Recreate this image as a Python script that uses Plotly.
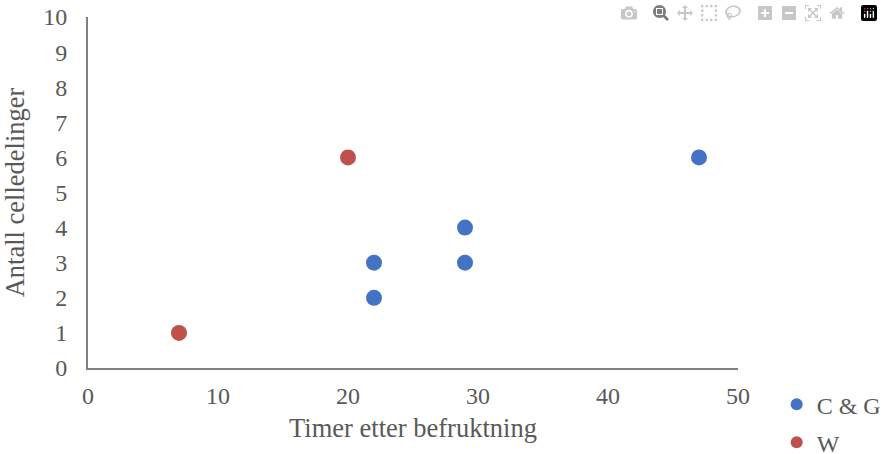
import plotly.graph_objects as go

cg_x = [22, 22, 29, 29, 47]
cg_y = [3, 2, 4, 3, 6]
w_x = [20, 7]
w_y = [6, 1]
series_names = ["C & G", "W"]
x_title = "Timer etter befruktning"
y_title = "Antall celledelinger"

font = "Liberation Serif, Times New Roman, serif"
grey = "#595959"

fig = go.Figure()
fig.add_trace(go.Scatter(x=cg_x, y=cg_y, mode="markers", name=series_names[0],
                         legendgroup="a",
                         marker=dict(color="#4472C4", size=16)))
fig.add_trace(go.Scatter(x=w_x, y=w_y, mode="markers", name=series_names[1],
                         legendgroup="b",
                         marker=dict(color="#C0504D", size=16)))

fig.update_layout(
    width=883, height=454,
    margin=dict(l=88, r=145, t=17, b=86, autoexpand=False),
    paper_bgcolor="white", plot_bgcolor="white",
    font=dict(family=font, size=24, color=grey),
    showlegend=True,
    legend=dict(x=1.0595, y=-0.04, xanchor="left", yanchor="top",
                font=dict(family=font, size=24, color=grey),
                itemwidth=30, tracegroupgap=4, itemsizing="constant",
                bgcolor="rgba(0,0,0,0)"),
    xaxis=dict(range=[0, 50], dtick=10, showgrid=False, zeroline=False,
               automargin=False, ticklabeloverflow="allow",
               showline=True, linecolor="#808080", linewidth=2,
               ticks="outside", ticklen=5, tickcolor="rgba(0,0,0,0)",
               tickfont=dict(family=font, size=24, color=grey),
               title=dict(text=x_title, font=dict(family=font, size=26.5, color=grey), standoff=11)),
    yaxis=dict(range=[0, 10], dtick=1, showgrid=False, zeroline=False,
               automargin=False, ticklabeloverflow="allow",
               showline=True, linecolor="#808080", linewidth=2,
               ticks="outside", ticklen=14, tickcolor="rgba(0,0,0,0)",
               tickfont=dict(family=font, size=24, color=grey),
               title=dict(text=y_title, font=dict(family=font, size=26.5, color=grey), standoff=12)),
)

# remove the page's default 8px body margin so the figure fills the window exactly
fig.write_html("out.html", post_script="document.body.style.margin='0';")
